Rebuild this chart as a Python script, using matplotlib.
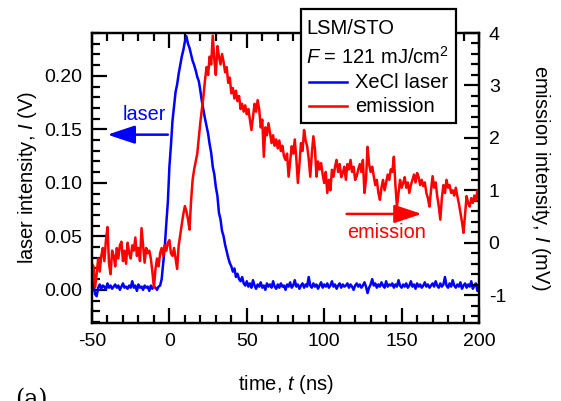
import numpy as np
import matplotlib
matplotlib.use("Agg")
import matplotlib.pyplot as plt
from matplotlib.lines import Line2D
from matplotlib.patches import Rectangle

plt.rcParams['font.family'] = ['Liberation Sans', 'DejaVu Sans']
plt.rcParams['mathtext.fontset'] = 'custom'
plt.rcParams['mathtext.rm'] = 'Liberation Sans'
plt.rcParams['mathtext.it'] = 'Liberation Sans:italic'

# ---------------------------------------------------------------------------------------#
# datos: t en ns (paso de 1 ns)

t = np.arange(-50, 201, 1)

# intensidad del laser XeCl (V), eje izquierdo
laser = [
    0.010, 0.004, -0.004, -0.006, 0.002, 0.005, 0.001, 0.004, 0.003, 0.000,
    0.006, 0.002, 0.004, 0.001, 0.003, 0.005, 0.002, 0.004, 0.000, 0.003,
    0.006, 0.002, 0.003, 0.001, 0.004, 0.002, 0.008, 0.002, 0.004, -0.001,
    0.005, 0.002, 0.003, 0.000, 0.004, 0.002, 0.003, -0.001, 0.004, 0.001,
    0.003, 0.002, 0.000, 0.003, 0.004,
    # -5 .. 50
    0.010, 0.025, 0.040, 0.062, 0.082, 0.115, 0.135, 0.158, 0.172, 0.185,
    0.192, 0.202, 0.210, 0.218, 0.224, 0.232, 0.237, 0.230, 0.226, 0.220,
    0.214, 0.210, 0.205, 0.199, 0.195, 0.186, 0.176, 0.168, 0.160, 0.153,
    0.146, 0.136, 0.128, 0.115, 0.108, 0.096, 0.088, 0.072, 0.066, 0.055,
    0.050, 0.042, 0.036, 0.030, 0.025, 0.022, 0.017, 0.020, 0.012, 0.015,
    0.010, 0.008, 0.012, 0.006, 0.004, 0.008,
    # 51 .. 200
    0.003, 0.006, 0.002, 0.009, 0.004, 0.001, 0.005, 0.003, 0.007, 0.002,
    0.004, 0.000, 0.006, 0.003, 0.005, 0.002, 0.008, 0.003, 0.001, 0.005,
    0.002, 0.006, 0.003, 0.004, 0.000, 0.005, 0.003, 0.007, 0.002, 0.004,
    0.009, 0.003, 0.005, 0.001, 0.004, 0.006, 0.002, 0.005, 0.003, 0.012,
    0.004, 0.002, 0.006, 0.003, 0.005, 0.001, 0.004, 0.007, 0.002, 0.005,
    0.003, 0.006, 0.002, 0.004, 0.008, 0.003, 0.005, 0.001, 0.004, 0.006,
    0.002, 0.005, 0.003, 0.004, 0.006, 0.002, 0.005, 0.003, 0.000, 0.004,
    0.006, 0.003, 0.005, 0.002, 0.004, 0.007, 0.003, -0.003, 0.002, 0.005,
    0.010, 0.004, 0.006, 0.002, 0.005, 0.003, 0.007, 0.004, 0.002, 0.008,
    0.003, 0.005, 0.004, 0.006, 0.002, 0.005, 0.003, 0.009, 0.004, 0.002,
    0.005, 0.003, 0.006, 0.002, 0.004, 0.008, 0.003, 0.005, 0.001, 0.006,
    0.003, 0.005, 0.002, 0.004, 0.007, 0.003, 0.005, 0.002, 0.004, 0.006,
    0.003, 0.008, 0.004, 0.002, 0.006, 0.003, 0.005, 0.012, 0.004, 0.002,
    0.006, 0.003, 0.009, 0.004, 0.002, 0.005, 0.003, 0.007, 0.001, 0.004,
    0.006, 0.002, 0.005, 0.003, 0.008, 0.001, 0.004, 0.006, -0.001, 0.003,
]

# intensidad de la emision (mV), eje derecho
emision = [
    -0.40, -0.45, -0.85, -0.60, -0.30, -0.55, -0.25, -0.10, -0.35, 0.05,
    0.30, -0.40, -0.60, -0.15, -0.25, -0.45, -0.10, -0.30, -0.05, 0.02,
    -0.35, -0.15, -0.40, 0.00, -0.20, -0.30, -0.05, -0.15, 0.10, -0.25,
    -0.10, -0.35, 0.28, -0.05, -0.38, -0.10, -0.20, -0.15, -0.30, -0.55,
    -0.86, -0.50, -0.30, -0.45, -0.20, -0.10, -0.25, -0.05, -0.15, 0.00,
    0.05, -0.20, -0.25, -0.10, -0.30, -0.50, -0.05, 0.15, 0.35, 0.55,
    0.70, 0.60, 0.45, 0.25, 0.80, 1.20, 1.40, 1.55, 1.70, 2.00,
    2.30, 2.55, 2.80, 3.10, 3.35, 3.20, 3.55, 3.40, 3.95, 3.50,
    3.20, 3.75, 3.55, 3.40, 3.60, 3.45, 3.25, 3.35, 3.05, 3.15,
    2.85, 2.95, 2.75, 2.90, 2.70, 2.80, 2.55, 2.65, 2.50, 2.62,
    2.45, 2.55, 2.35, 2.15, 2.40, 2.65, 2.50, 2.72, 2.55, 2.20,
    2.35, 1.64, 2.20, 2.05, 2.28, 2.10, 1.90, 2.05, 1.85, 1.97,
    1.80, 1.95, 1.75, 1.85, 1.65, 1.58, 1.70, 1.26, 1.55, 1.84,
    1.70, 1.97, 1.60, 1.14, 1.50, 1.90, 1.75, 2.15, 1.95, 1.84,
    1.60, 1.26, 1.70, 2.03, 1.80, 1.26, 1.55, 1.40, 1.52, 1.30,
    # 100 .. 200
    1.14, 1.35, 0.95, 1.20, 1.00, 1.39, 1.26, 1.45, 1.58, 1.35,
    1.50, 1.25, 1.33, 1.45, 1.20, 1.50, 1.40, 1.58, 1.35, 1.45,
    1.20, 1.27, 1.40, 1.50, 1.35, 1.58, 0.95, 1.20, 1.83, 1.50,
    1.35, 1.45, 1.27, 1.10, 1.20, 0.95, 0.82, 1.05, 1.20, 1.00,
    1.14, 1.30, 1.20, 1.40, 1.35, 1.64, 1.10, 0.69, 0.95, 1.20,
    1.05, 1.14, 1.25, 1.05, 1.15, 0.95, 1.10, 1.20, 1.30, 1.15,
    1.33, 1.25, 1.10, 1.20, 1.08, 1.15, 0.95, 0.85, 0.69, 1.00,
    1.27, 1.05, 1.15, 0.89, 0.70, 0.44, 0.85, 1.10, 0.95, 1.20,
    1.05, 1.10, 0.95, 1.00, 0.90, 1.05, 0.89, 0.75, 0.57, 0.40,
    0.19, 0.55, 0.89, 0.75, 0.69, 0.85, 0.76, 0.90, 0.80, 1.00,
    0.82,
]

azul = '#0000ff'
rojo = '#ff0000'

# ---------------------------------------------------------------------------------------#

fig = plt.figure(figsize=(5.61, 4.01), dpi=100)
ax = fig.add_axes([92/561, 78/401, 387/561, 290/401])
ax2 = ax.twinx()

ax.plot(t, laser, color=azul, lw=1.8)
ax2.plot(t, emision, color=rojo, lw=1.8)

ax.set_xlim(-50, 200)
ax.set_ylim(-0.031, 0.240)
ax2.set_ylim(-1.53, 4.0)

ax.set_xticks(np.arange(-50, 201, 50))
ax.set_xticks(np.arange(-50, 201, 10), minor=True)
ax.set_xticklabels(['-50', '0', '50', '100', '150', '200'])
ax.set_yticks([0.00, 0.05, 0.10, 0.15, 0.20])
ax.set_yticklabels(['0.00', '0.05', '0.10', '0.15', '0.20'])
ax.set_yticks(np.arange(-0.03, 0.241, 0.01), minor=True)
ax2.set_yticks([-1, 0, 1, 2, 3, 4])
ax2.set_yticklabels(['-1', '0', '1', '2', '3', '4'])
ax2.set_yticks(np.arange(-1.4, 4.01, 0.2), minor=True)

for a in (ax, ax2):
    for s in a.spines.values():
        s.set_linewidth(1.6)
ax.tick_params(which='both', direction='in', width=1.6, labelsize=14, top=True, right=False, pad=7)
ax.tick_params(which='major', length=11)
ax.tick_params(which='minor', length=5.5)
ax2.tick_params(which='both', direction='in', width=1.6, labelsize=14, pad=7)
ax2.tick_params(which='major', length=11)
ax2.tick_params(which='minor', length=5.5)

ax.set_xlabel('time, $\\it{t}$ (ns)', fontsize=14.5, labelpad=17)
ax.set_ylabel('laser intensity, $\\it{I}$ (V)', fontsize=14.5, labelpad=4)
ax2.set_ylabel('emission intensity, $\\it{I}$ (mV)', fontsize=14.5, rotation=270, labelpad=33)

# flechas
ax.annotate('', xy=(-40, 0.145), xytext=(-1, 0.145),
            arrowprops=dict(arrowstyle='-|>,head_length=1.2,head_width=0.4', color=azul,
                            lw=1.8, mutation_scale=14, shrinkA=0, shrinkB=0))
ax.text(-16, 0.164, 'laser', color=azul, fontsize=14.3, ha='center', va='center')
ax2.annotate('', xy=(163, 0.55), xytext=(114.5, 0.55),
             arrowprops=dict(arrowstyle='-|>,head_length=1.2,head_width=0.4', color=rojo,
                             lw=1.8, mutation_scale=14, shrinkA=0, shrinkB=0))
ax2.text(140, 0.2, 'emission', color=rojo, fontsize=14.3, ha='center', va='center')

# leyenda
W, H = 561.0, 401.0
def fx(x):
    return x / W
def fy(y):
    return (H - y) / H

fig.patches.append(Rectangle((fx(300.5), fy(122.5)), fx(455.5) - fx(300.5), fy(9) - fy(122.5),
                             transform=fig.transFigure, facecolor='white', edgecolor='black',
                             lw=1.6, zorder=10))
fig.text(fx(306), fy(28), 'LSM/STO', fontsize=14.5, va='center', ha='left', zorder=11)
fig.text(fx(306), fy(57), '$\\it{F}$ = 121 mJ/cm$^{2}$', fontsize=14.5, va='center', ha='left', zorder=11)
fig.lines.append(Line2D([fx(309), fx(347)], [fy(82), fy(82)], transform=fig.transFigure,
                        color=azul, lw=1.8, zorder=11))
fig.text(fx(355), fy(82), 'XeCl laser', fontsize=14.5, va='center', ha='left', zorder=11)
fig.lines.append(Line2D([fx(309), fx(347)], [fy(106), fy(106)], transform=fig.transFigure,
                        color=rojo, lw=1.8, zorder=11))
fig.text(fx(355), fy(106), 'emission', fontsize=14.5, va='center', ha='left', zorder=11)

fig.text(fx(15), fy(388), '(a)', fontsize=17, family='DejaVu Serif', va='top', ha='left')

fig.savefig('out.png', dpi=100)
